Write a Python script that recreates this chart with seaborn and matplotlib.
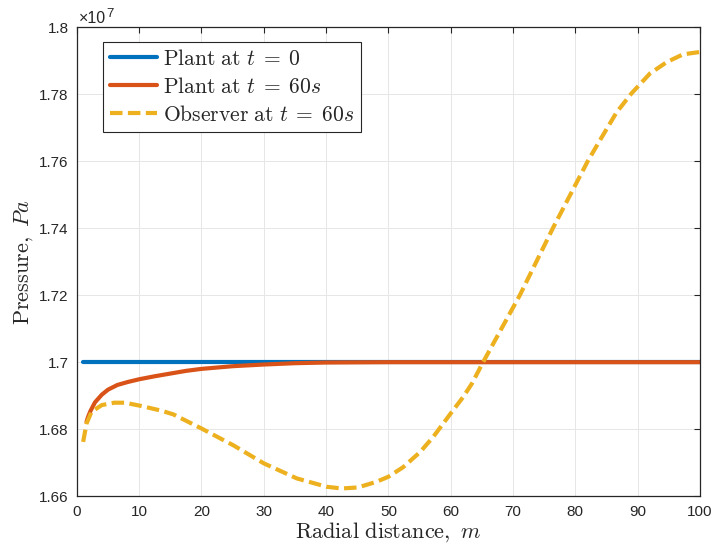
import matplotlib
matplotlib.use("Agg")
import matplotlib.pyplot as plt
import seaborn as sns
from matplotlib.ticker import FuncFormatter, MultipleLocator

# Data: radial distance (m) and pressure (Pa)
r_plant0 = [1, 10, 20, 40, 60, 80, 100]
p_plant0 = [1.7e7] * len(r_plant0)

r_plant60 = [1.55, 1.8, 2.2, 2.9, 4, 5, 6.5, 8.2, 10, 12.5, 15, 17.5, 20,
             25, 30, 35, 40, 50, 100]
p_plant60 = [1.6822e7, 1.6837e7, 1.6855e7, 1.6880e7, 1.6903e7, 1.6918e7,
             1.6932e7, 1.6941e7, 1.6949e7, 1.6958e7, 1.6966e7, 1.6974e7,
             1.6980e7, 1.6988e7, 1.6993e7, 1.6997e7, 1.6999e7, 1.7e7, 1.7e7]

r_obs = [1.0, 1.55, 2.35, 4.0, 6.0, 7.7, 10.4, 13.6, 15.5, 20, 25.1, 30,
         35.3, 40.1, 42.5, 45.1, 48.1, 50, 52.4, 55.1, 57.2, 60, 62, 63.4,
         65.2, 68, 71.1, 76.4, 82, 84.2, 86.6, 89.0, 92.0, 94.7, 97.3, 100]
p_obs = [1.6762e7, 1.6817e7, 1.6852e7, 1.6872e7, 1.6879e7, 1.6879e7,
         1.6869e7, 1.6855e7, 1.6844e7, 1.6802e7, 1.6752e7, 1.6698e7,
         1.6653e7, 1.6628e7, 1.6623e7, 1.6626e7, 1.6643e7, 1.6658e7,
         1.6687e7, 1.6732e7, 1.6777e7, 1.6847e7, 1.6896e7, 1.6936e7,
         1.7000e7, 1.7095e7, 1.7200e7, 1.7400e7, 1.7600e7, 1.7670e7,
         1.7745e7, 1.7802e7, 1.7862e7, 1.7896e7, 1.7919e7, 1.7926e7]

labels = [r"$\mathrm{Plant\ at\ }t\;=\;0$",
          r"$\mathrm{Plant\ at\ }t\;=\;60s$",
          r"$\mathrm{Observer\ at\ }t\;=\;60s$"]
colors = ["#0072BD", "#D95319", "#EDB120"]

sns.set_style("whitegrid")
plt.rcParams["font.family"] = ["Liberation Sans", "DejaVu Sans"]
plt.rcParams["mathtext.fontset"] = "cm"

fig = plt.figure(figsize=(7.12, 5.55), dpi=100)
ax = fig.add_axes([0.108, 0.106, 0.875, 0.845])

sns.lineplot(x=r_plant0, y=p_plant0, ax=ax, color=colors[0], lw=3,
             label=labels[0], sort=False)
sns.lineplot(x=r_plant60, y=p_plant60, ax=ax, color=colors[1], lw=3,
             label=labels[1], sort=False)
sns.lineplot(x=r_obs, y=p_obs, ax=ax, color=colors[2], lw=3,
             label=labels[2], sort=False)
ax.lines[2].set_dashes((3.0, 1.3))
ax.lines[2].set_dash_capstyle("butt")

ax.set_xlim(0, 100)
ax.set_ylim(1.66e7, 1.8e7)
ax.xaxis.set_major_locator(MultipleLocator(10))
ax.yaxis.set_major_locator(MultipleLocator(0.02e7))
ax.yaxis.set_major_formatter(FuncFormatter(lambda v, _: f"{v / 1e7:g}"))

# exponent label like MATLAB
ax.text(0.003, 1.0085, "\u00d710", transform=ax.transAxes, fontsize=11.5,
        color="#262626", ha="left", va="baseline")
ax.text(0.048, 1.021, "7", transform=ax.transAxes, fontsize=9.5,
        color="#262626", ha="left", va="baseline")

ax.grid(True, color="#e6e6e6", lw=0.7)
ax.tick_params(direction="in", length=4.5, width=0.8, top=True, right=True,
               labelsize=11, colors="#262626", pad=6)
for s in ax.spines.values():
    s.set_color("#262626")
    s.set_linewidth(0.9)

ax.set_xlabel(r"$\mathrm{Radial\ distance,\ }m$", fontsize=16, labelpad=1)
ax.set_ylabel(r"$\mathrm{Pressure,\ }Pa$", fontsize=16, labelpad=3)

leg = ax.legend(loc="upper left", bbox_to_anchor=(0.042, 0.968), fontsize=15.5,
                frameon=True, fancybox=False, handlelength=2.2,
                handletextpad=0.3, borderpad=0.3, labelspacing=0.33,
                borderaxespad=0)
leg.get_frame().set_edgecolor("#262626")
leg.get_frame().set_linewidth(0.8)
leg.get_frame().set_alpha(1)

fig.savefig("out.png", dpi=100)
